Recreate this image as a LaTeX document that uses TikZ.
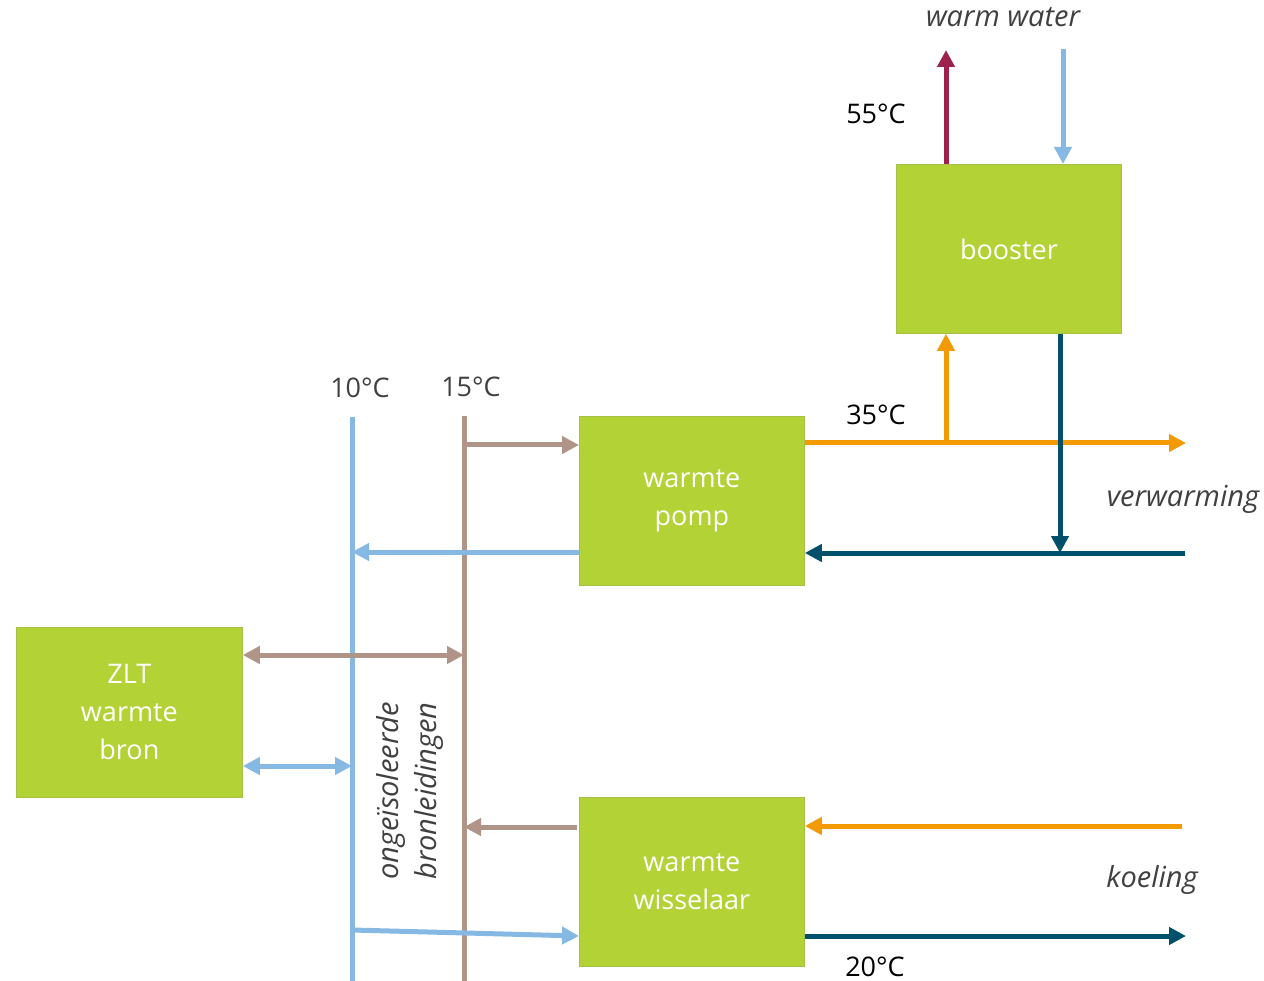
\documentclass[tikz,border=0pt]{standalone}
\usepackage{fontspec}
\setmainfont{Open Sans}
\usetikzlibrary{arrows.meta,calc}
\definecolor{boxgreen}{HTML}{B2D235}
\definecolor{boxedge}{HTML}{A6BF45}
\definecolor{pipeblue}{HTML}{85B9E3}
\definecolor{pipebrown}{HTML}{B09488}
\definecolor{pipeorange}{HTML}{F29A00}
\definecolor{pipeteal}{HTML}{004F6B}
\definecolor{pipered}{HTML}{9E2149}
\definecolor{labelgray}{HTML}{404040}
\begin{document}
\begin{tikzpicture}[x=1pt,y=-1pt,
  unit/.style={draw=boxedge,line width=0.8pt,fill=boxgreen,text=white,minimum width=225pt,minimum height=169pt,inner sep=0pt,align=center,font=\fontsize{27}{38}\selectfont,anchor=north west},
  pipe/.style={line width=5pt},
  tip/.style={-{Triangle[length=17pt,width=17pt]}},
  dtip/.style={{Triangle[length=17pt,width=17pt]}-{Triangle[length=17pt,width=17pt]}},
  temp/.style={font=\fontsize{27}{30}\selectfont,text=black},
  tempg/.style={font=\fontsize{27}{30}\selectfont,text=labelgray},
  ital/.style={font=\fontsize{29}{32}\selectfont\itshape,text=labelgray}]
\useasboundingbox (0,0) rectangle (1264,981);
% units
\node[unit] (booster) at (896,164) {booster};
\node[unit] (pomp) at (579,416) {warmte\\pomp};
\node[unit,minimum width=226pt,minimum height=170pt] (zlt) at (16,627) {ZLT\\warmte\\bron};
\node[unit] (wissel) at (579,797) {warmte\\wisselaar};
% main source lines
\coordinate (l10top) at (352,417);
\coordinate (l10bot) at (352,981);
\coordinate (l15top) at (464,416);
\coordinate (l15bot) at (464,981);
\draw[pipe,pipeblue] (l10top) -- (l10bot);
\draw[pipe,pipebrown] (l15top) -- (l15bot);
% labels
\node[tempg] (t10) at (360,388) {10°C};
\node[tempg] (t15) at (471,387) {15°C};
\node[temp] (t35) at (876,415) {35°C};
\node[temp] (t55) at (876,114) {55°C};
\node[temp] (t20) at (875,967) {20°C};
\node[ital] (ww) at (1003,17) {warm water};
\node[ital] (verw) at (1183,499) {verwarming};
\node[ital] (koel) at (1152,880) {koeling};
\node[ital,rotate=90,align=center,font=\fontsize{29}{38}\selectfont\itshape] (onge) at (410,791) {ongeïsoleerde\\bronleidingen};
% warm water
\coordinate (wwout) at (946,50);
\coordinate (wwin) at (1063,49);
\draw[pipe,pipered,tip] (booster.north -| wwout) -- (wwout);
\draw[pipe,pipeblue,tip] (wwin) -- (booster.north -| wwin);
% heating
\coordinate (verwout) at (1186,443);
\coordinate (verwin) at (1185,553);
\coordinate (split) at (946,443);
\coordinate (merge) at (1060,553);
\draw[pipe,pipeorange,tip] (pomp.east |- verwout) -- (verwout);
\draw[pipe,pipeorange,tip] (split) -- (booster.south -| split);
\draw[pipe,pipeteal,tip] (booster.south -| merge) -- (merge);
\draw[pipe,pipeteal,tip] (verwin) -- (pomp.east |- verwin);
% pomp to source
\draw[pipe,pipebrown,tip] (l15top |- 0,445) -- (pomp.west |- 0,445);
\draw[pipe,pipeblue,tip] (pomp.west |- 0,552) -- (l10top |- 0,552);
% ZLT
\draw[pipe,pipebrown,dtip] (zlt.east |- 0,655) -- (l15top |- 0,655);
\draw[pipe,pipeblue,dtip] (zlt.east |- 0,766) -- (l10top |- 0,766);
% wisselaar
\draw[pipe,pipebrown,tip] ($(wissel.west |- 0,827)+(-2,0)$) -- (l15top |- 0,827);
\draw[pipe,pipeblue,tip] (l10top |- 0,930) -- (wissel.west |- 0,936);
\coordinate (koelin) at (1182,826);
\coordinate (koelout) at (1186,936);
\draw[pipe,pipeorange,tip] (koelin) -- (wissel.east |- koelin);
\draw[pipe,pipeteal,tip] (wissel.east |- koelout) -- (koelout);
\end{tikzpicture}
\end{document}
